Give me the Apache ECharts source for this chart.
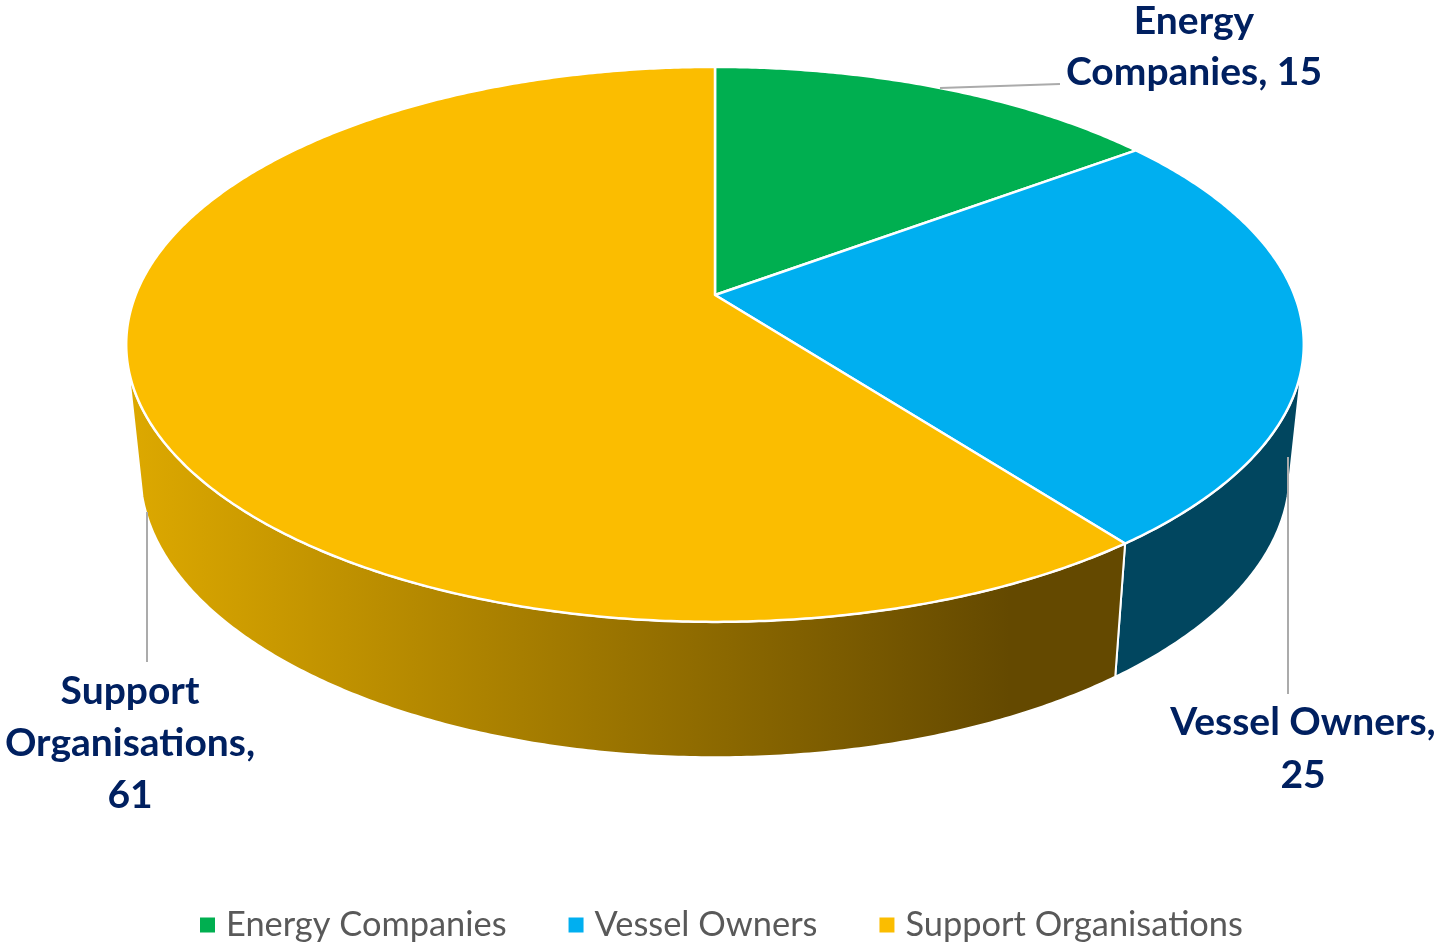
<!DOCTYPE html>
<html>
<head>
<meta charset="utf-8">
<style>html,body{margin:0;padding:0;background:#fff}#chart{width:1447px;height:945px}</style>
<script src="https://cdn.jsdelivr.net/npm/echarts@6/dist/echarts.min.js"></script>
</head>
<body>
<div id="chart"></div>
<script>
const categories = ['Energy Companies', 'Vessel Owners', 'Support Organisations'];
const values = [15, 25, 61];
const labelLines = [['Energy', 'Companies, 15'], ['Vessel Owners,', '25'], ['Support', 'Organisations,', '61']];
const topColors = ['#00AF50', '#00AFF0', '#FBBD00'];

// Perspective disc geometry (style, not data)
const CX = 715, PERSP = 0.178;
const TOP = { y0: 295, a: 579.4, b: 268.7 };
const BOT = { y0: 421.5, a: 565.5, b: 276 };
const VIS_START = 105 * Math.PI / 180, VIS_END = 255 * Math.PI / 180;
const project = (g, t) => {
  const u = Math.sin(t), v = Math.cos(t), d = 1 + PERSP * v;
  return [CX + g.a * u / d, g.y0 - g.b * v / d];
};
const arc = (g, t0, t1) => {
  const n = Math.max(2, Math.ceil((t1 - t0) * 120)), pts = [];
  for (let i = 0; i <= n; i++) pts.push(project(g, t0 + (t1 - t0) * i / n));
  return pts;
};
const total = values.reduce((s, v) => s + v, 0);
const wallFills = [
  '#00713a',
  '#01465F',
  { type: 'linear', x: 135, y: 0, x2: 1010, y2: 0, global: true,
    colorStops: [{ offset: 0, color: '#DCA800' }, { offset: 1, color: '#644900' }] }
];
const labelPos = [
  { x: 1194, ys: [21, 72], line: [[940, 88], [1060, 84]] },
  { x: 1303, ys: [722, 775], line: [[1288, 457], [1288, 694]] },
  { x: 130, ys: [691, 743, 795], line: [[147, 512], [147, 662]] }
];

function renderSlice(idx) {
  return function (params, api) {
    const start = api.value(0) / total * 2 * Math.PI;
    const end = api.value(1) / total * 2 * Math.PI;
    const children = [];
    const s = Math.max(start, VIS_START), e = Math.min(end, VIS_END);
    if (e > s) {
      children.push({
        type: 'polygon', z2: 1, silent: true,
        shape: { points: arc(TOP, s, e).concat(arc(BOT, s, e).reverse()) },
        style: { fill: wallFills[idx], stroke: '#fff', lineWidth: 2 }
      });
    }
    children.push({
      type: 'polygon', z2: 2, silent: true,
      shape: { points: [[CX, TOP.y0]].concat(arc(TOP, start, end)) },
      style: { fill: topColors[idx], stroke: '#fff', lineWidth: 2.5, lineJoin: 'round' }
    });
    const lp = labelPos[idx];
    children.push({
      type: 'polyline', z2: 3, silent: true,
      shape: { points: lp.line },
      style: { fill: 'none', stroke: '#ABABAB', lineWidth: 2 }
    });
    labelLines[idx].forEach((t, i) => children.push({
      type: 'text', z2: 4, silent: true,
      style: { text: t, x: lp.x, y: lp.ys[i], align: 'center', verticalAlign: 'middle',
        fill: '#002060', font: 'bold 39px Lato, sans-serif' }
    }));
    return { type: 'group', children };
  };
}

let acc = 0;
const series = categories.map((name, i) => {
  const from = acc; acc += values[i];
  return {
    type: 'custom', name, coordinateSystem: 'none', animation: false,
    silent: true,
    itemStyle: { color: topColors[i] },
    renderItem: renderSlice(i),
    data: [[from, acc]]
  };
});

const chart = echarts.init(document.getElementById('chart'), null, { renderer: 'canvas' });
chart.setOption({
  animation: false,
  backgroundColor: '#fff',
  legend: {
    data: categories, left: 200, top: 908, padding: 0, itemWidth: 15, itemHeight: 15, itemGap: 62,
    icon: 'rect', selectedMode: false,
    textStyle: { color: '#595959', fontFamily: 'Lato, sans-serif', fontSize: 34.4, padding: [0, 0, 0, 6] }
  },
  series
});
</script>
</body>
</html>
